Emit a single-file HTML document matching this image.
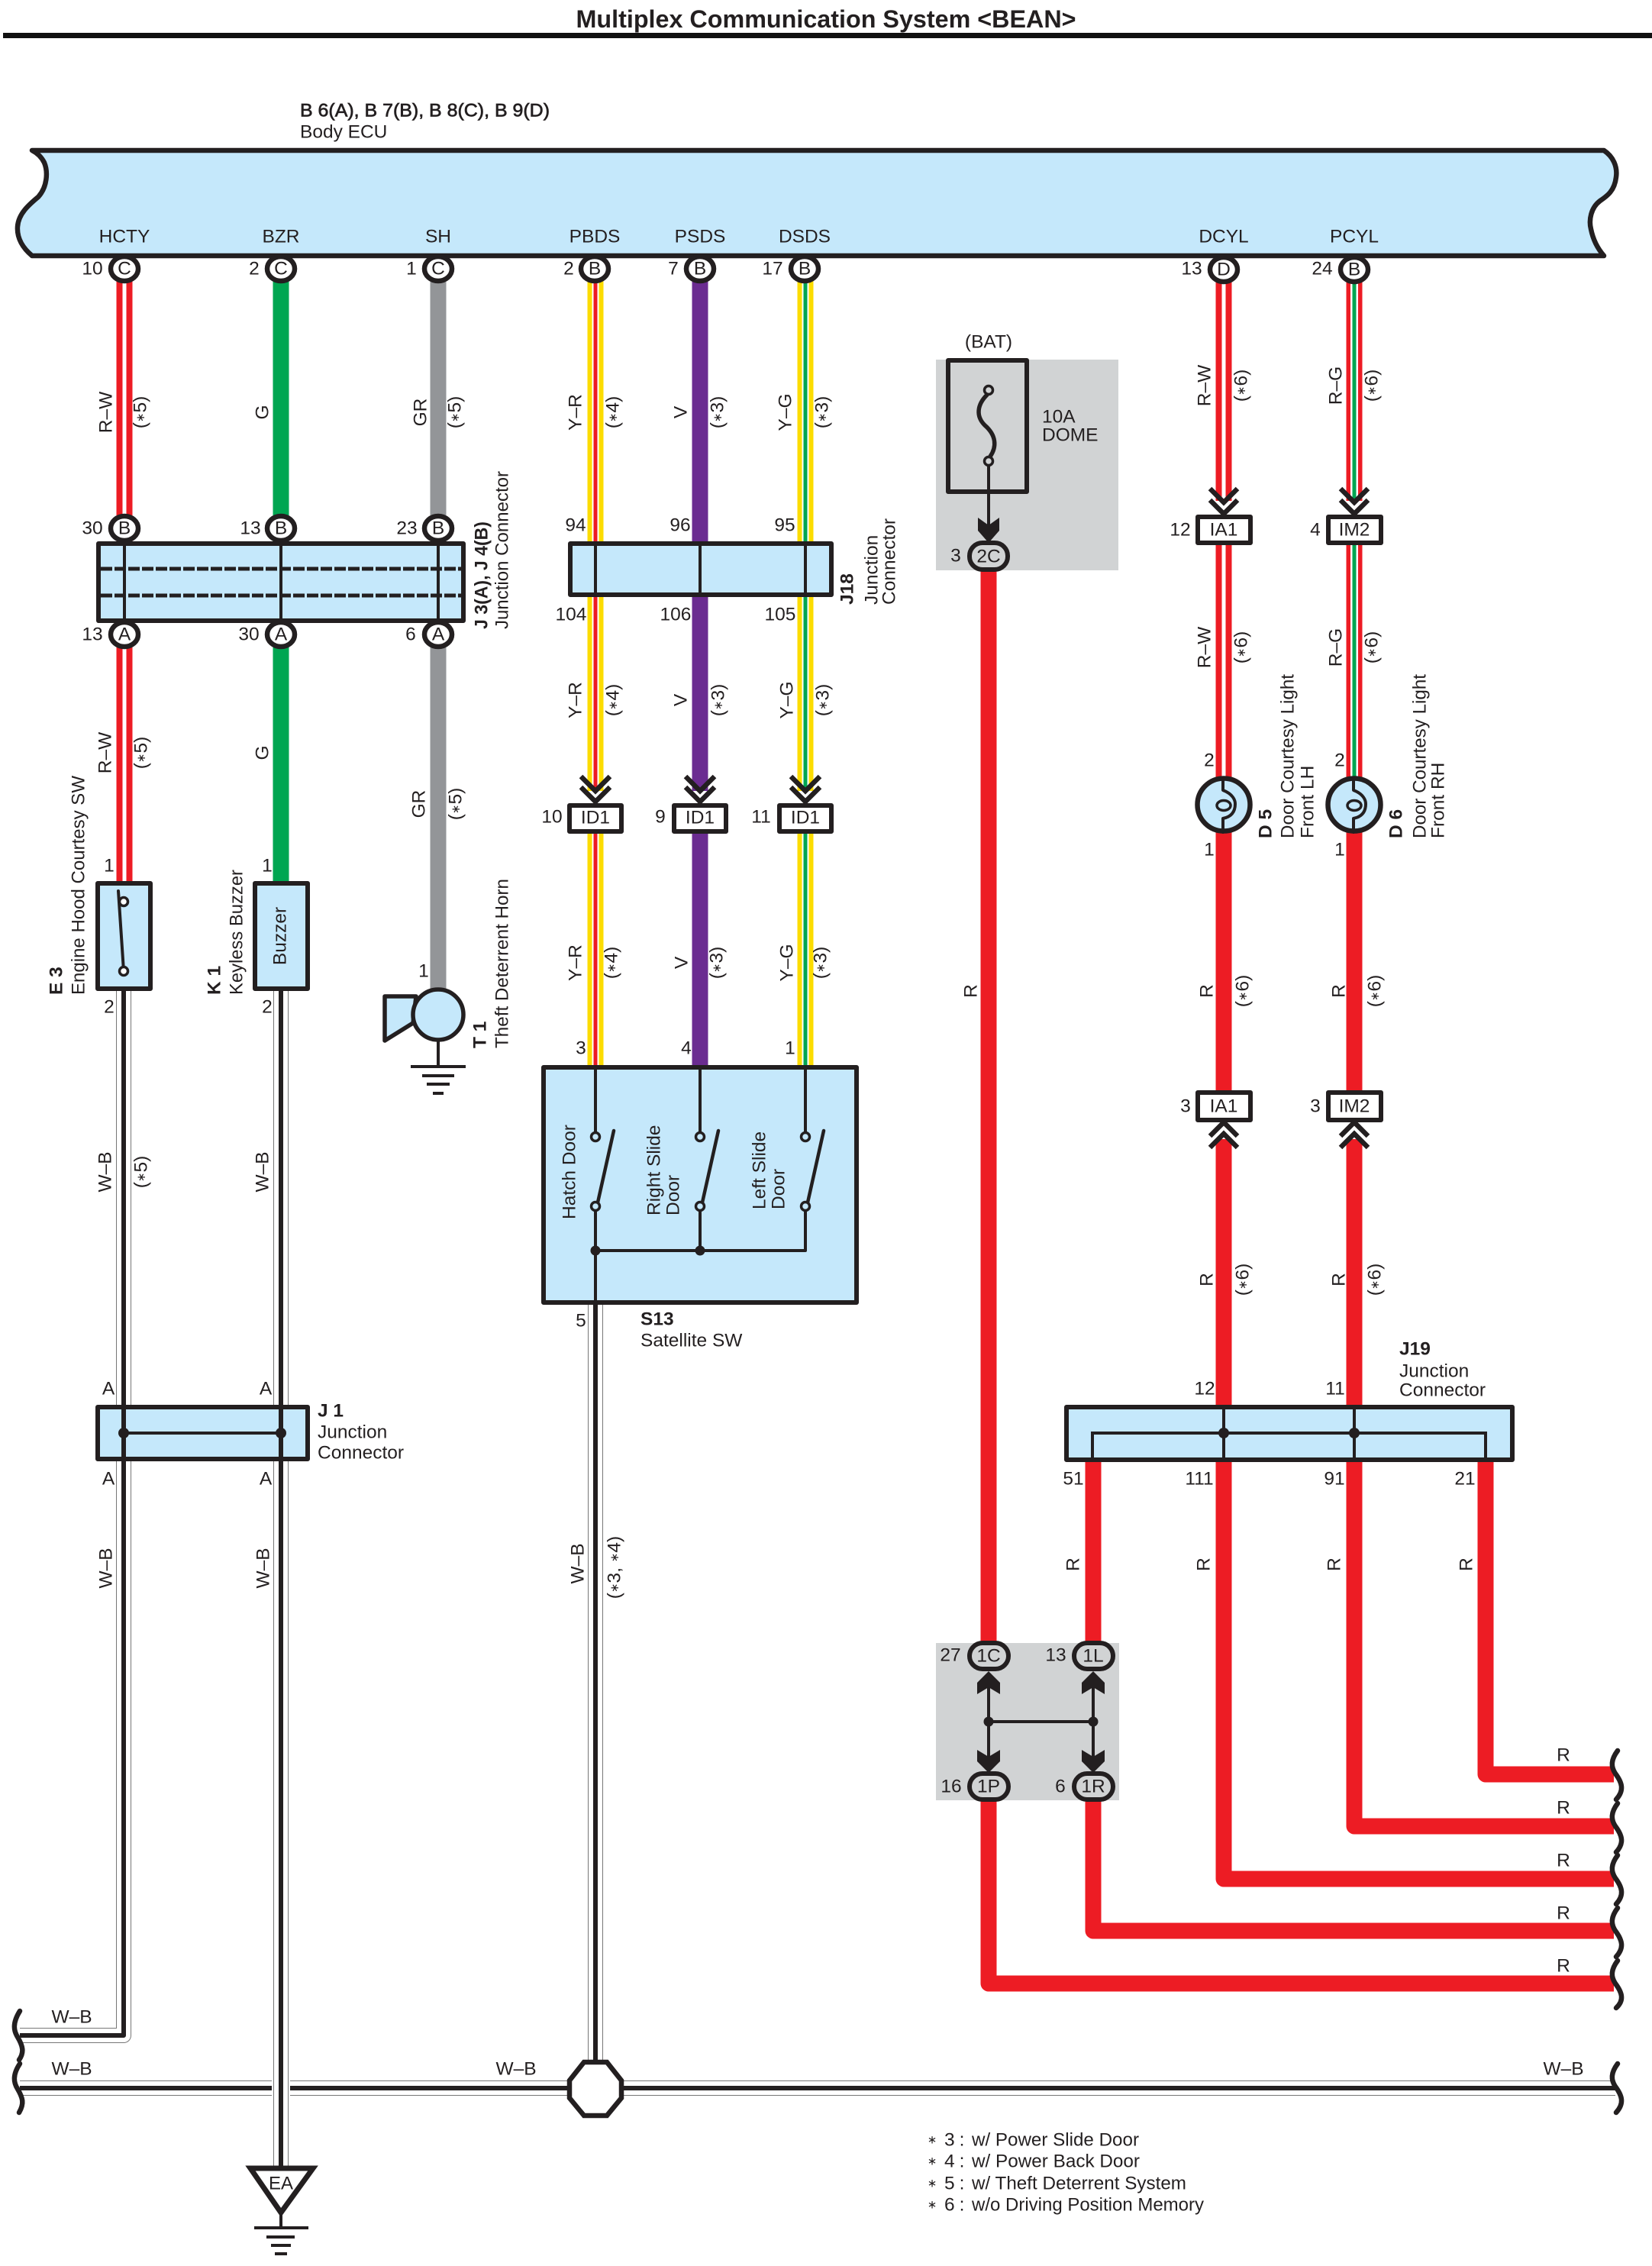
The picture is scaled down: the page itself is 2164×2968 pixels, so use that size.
<!DOCTYPE html>
<html><head><meta charset="utf-8"><style>
html,body{margin:0;padding:0;background:#fff}
svg{display:block}
text{font-family:"Liberation Sans",sans-serif;font-size:24.5px;fill:#231f20;text-anchor:middle;dominant-baseline:central}
.a{font-size:15px}
.s{text-anchor:start}
.b{font-weight:bold}
.m{stroke:#231f20;stroke-width:.7px}
.k{fill:none;stroke:#231f20;stroke-linecap:round;stroke-linejoin:round}
.bx{fill:#c5e8fb;stroke:#231f20;stroke-width:6;stroke-linejoin:round}
.ov{fill:#d1d3d4;stroke:#231f20;stroke-width:6}
.w{fill:none;stroke-linejoin:round}
</style></head><body>
<svg xmlns="http://www.w3.org/2000/svg" width="2164" height="2968" viewBox="0 0 2164 2968">
<rect width="2164" height="2968" fill="#fff"/>
<!-- title -->
<text class="b" x="1082" y="25" style="font-size:32px" textLength="655" lengthAdjust="spacingAndGlyphs">Multiplex Communication System &lt;BEAN&gt;</text>
<rect x="4" y="43" width="2160" height="7" fill="#111"/>
<text class="s m" x="393" y="145" textLength="327" lengthAdjust="spacingAndGlyphs">B 6(A), B 7(B), B 8(C), B 9(D)</text>
<text class="s" x="393" y="173">Body ECU</text>

<!-- gray backgrounds -->
<rect x="1226" y="471" width="239" height="276" fill="#d1d3d4"/>
<rect x="1226" y="2152" width="240" height="206" fill="#d1d3d4"/>

<!-- ECU -->
<path d="M42,197 H2101 C2113,205 2119,218 2117,232 C2115,250 2105,257 2096,263 C2084,272 2081,288 2084,300 C2087,315 2094,327 2101,335 H42 C30,325 22,312 23,297 C24,280 38,268 50,258 C62,245 63,225 58,213 C54,205 48,200 42,197 Z" fill="#c5e8fb" stroke="#231f20" stroke-width="6.5" stroke-linejoin="round"/>
<text x="163" y="310">HCTY</text><text x="368" y="310">BZR</text><text x="574" y="310">SH</text><text x="779" y="310">PBDS</text><text x="917" y="310">PSDS</text><text x="1054" y="310">DSDS</text><text x="1603" y="310">DCYL</text><text x="1774" y="310">PCYL</text>

<!-- coloured wires -->
<g class="w">
<path d="M163,352V1157" stroke="#ed1c24" stroke-width="21"/><path d="M163,352V1157" stroke="#fff" stroke-width="5"/>
<path d="M368,352V1157" stroke="#00a651" stroke-width="21"/>
<path d="M574,352V1300" stroke="#939598" stroke-width="21"/>
<path d="M780,352V1036M780,1090V1398" stroke="#fcdc00" stroke-width="21"/><path d="M780,352V1036M780,1090V1398" stroke="#fff" stroke-width="9"/><path d="M780,352V1036M780,1090V1398" stroke="#ed1c24" stroke-width="5"/>
<path d="M917,352V1036M917,1090V1398" stroke="#6b2c91" stroke-width="21"/>
<path d="M1055,352V1036M1055,1090V1398" stroke="#fcdc00" stroke-width="21"/><path d="M1055,352V1036M1055,1090V1398" stroke="#fff" stroke-width="9"/><path d="M1055,352V1036M1055,1090V1398" stroke="#00a651" stroke-width="5"/>
<path d="M1603,353V656M1603,694V1030" stroke="#ed1c24" stroke-width="21"/><path d="M1603,353V656M1603,694V1030" stroke="#fff" stroke-width="5"/>
<path d="M1774,353V656M1774,694V1030" stroke="#ed1c24" stroke-width="21"/><path d="M1774,353V656M1774,694V1030" stroke="#fff" stroke-width="10"/><path d="M1774,353V656M1774,694V1030" stroke="#00a651" stroke-width="5"/>
<!-- red -->
<g stroke="#ed1c24" stroke-width="21">
<path d="M1295,729V2169"/>
<path d="M1295,2340V2598H2114"/>
<path d="M1432,1912V2169"/>
<path d="M1432,2340V2529H2114"/>
<path d="M1603,1085V1430M1603,1492V2461H2114"/>
<path d="M1774,1085V1430M1774,1492V2392H2114"/>
<path d="M1946,1912V2324H2114"/>
</g>
<!-- W-B -->
<g>
<path d="M162,1295V2666H26" stroke="#777" stroke-width="20"/><path d="M162,1295V2666H26" stroke="#fff" stroke-width="18"/><path d="M162,1295V2666H26" stroke="#231f20" stroke-width="6"/>
<path d="M26,2735H2116" stroke="#777" stroke-width="20"/><path d="M26,2735H2116" stroke="#fff" stroke-width="18"/><path d="M26,2735H2116" stroke="#231f20" stroke-width="6"/>
<path d="M368,1295V2840" stroke="#fff" stroke-width="24"/>
<path d="M368,1295V2840" stroke="#777" stroke-width="20"/><path d="M368,1295V2840" stroke="#fff" stroke-width="18"/><path d="M368,1295V2840" stroke="#231f20" stroke-width="6"/>
<path d="M780,1706V2702" stroke="#777" stroke-width="20"/><path d="M780,1706V2702" stroke="#fff" stroke-width="18"/><path d="M780,1706V2702" stroke="#231f20" stroke-width="6"/>
</g>
</g>

<!-- squiggles -->
<g class="k" stroke-width="6.5">
<path d="M26,2634C16,2650 18,2660 23,2668C30,2680 32,2688 25,2698"/>
<path d="M26,2703C16,2718 18,2728 23,2736C30,2748 32,2755 25,2767"/>
<path d="M2119,2703C2110,2715 2110,2724 2116,2733C2125,2745 2128,2755 2117,2767"/>
<path d="M2119,2293C2110,2305 2110,2314 2116,2323C2125,2335 2128,2345 2117,2357"/>
<path d="M2119,2362C2110,2374 2110,2383 2116,2392C2125,2404 2128,2414 2117,2426"/>
<path d="M2119,2430C2110,2442 2110,2451 2116,2460C2125,2472 2128,2482 2117,2494"/>
<path d="M2119,2499C2110,2511 2110,2520 2116,2529C2125,2541 2128,2551 2117,2563"/>
<path d="M2119,2568C2110,2580 2110,2589 2116,2598C2125,2610 2128,2620 2117,2630"/>
</g>

<!-- ECU pins -->
<g style="fill:#fff;stroke:#231f20;stroke-width:6.5">
<ellipse cx="163" cy="352" rx="18" ry="16"/><ellipse cx="368" cy="352" rx="18" ry="16"/><ellipse cx="574" cy="352" rx="18" ry="16"/><ellipse cx="779" cy="352" rx="18" ry="16"/><ellipse cx="917" cy="352" rx="18" ry="16"/><ellipse cx="1054" cy="352" rx="18" ry="16"/><ellipse cx="1603" cy="353" rx="18" ry="16"/><ellipse cx="1774" cy="353" rx="18" ry="16"/>
<ellipse cx="163" cy="692" rx="18" ry="16"/><ellipse cx="368" cy="692" rx="18" ry="16"/><ellipse cx="574" cy="692" rx="18" ry="16"/>
<ellipse cx="163" cy="831" rx="18" ry="16"/><ellipse cx="368" cy="831" rx="18" ry="16"/><ellipse cx="574" cy="831" rx="18" ry="16"/>
</g>
<text x="163" y="352">C</text><text x="368" y="352">C</text><text x="574" y="352">C</text><text x="779" y="352">B</text><text x="917" y="352">B</text><text x="1054" y="352">B</text><text x="1603" y="353">D</text><text x="1774" y="353">B</text>
<text x="163" y="692">B</text><text x="368" y="692">B</text><text x="574" y="692">B</text>
<text x="163" y="831">A</text><text x="368" y="831">A</text><text x="574" y="831">A</text>
<text x="121" y="352">10</text><text x="333" y="352">2</text><text x="539" y="352">1</text><text x="745" y="352">2</text><text x="882" y="352">7</text><text x="1012" y="352">17</text><text x="1561" y="352">13</text><text x="1732" y="352">24</text>
<text x="121" y="692">30</text><text x="328" y="692">13</text><text x="533" y="692">23</text>
<text x="121" y="831">13</text><text x="326" y="831">30</text><text x="538" y="831">6</text>
<text x="754" y="688">94</text><text x="891" y="688">96</text><text x="1028" y="688">95</text>
<text x="748" y="805">104</text><text x="885" y="805">106</text><text x="1022" y="805">105</text>

<!-- J3/J4 -->
<rect class="bx" x="129" y="712" width="478" height="101"/>
<path d="M163,712V813M368,712V813M574,712V813" stroke="#231f20" stroke-width="4"/>
<path d="M132,745H604M132,780H604" stroke="#231f20" stroke-width="5" stroke-dasharray="15 3"/>
<!-- J18 -->
<rect class="bx" x="747" y="712" width="342" height="67"/>
<path d="M780,712V779M917,712V779M1055,712V779" stroke="#231f20" stroke-width="4"/>

<!-- ID1 -->
<g fill="#fff" stroke="#231f20" stroke-width="6" stroke-linejoin="round">
<rect x="746" y="1055" width="68" height="34"/><rect x="883" y="1055" width="68" height="34"/><rect x="1021" y="1055" width="68" height="34"/>
<rect x="1569" y="677" width="69" height="34"/><rect x="1740" y="677" width="69" height="34"/>
<rect x="1569" y="1431" width="69" height="36"/><rect x="1740" y="1431" width="69" height="36"/>
</g>
<text x="780" y="1071">ID1</text><text x="917" y="1071">ID1</text><text x="1055" y="1071">ID1</text>
<text x="1603" y="694">IA1</text><text x="1774" y="694">IM2</text><text x="1603" y="1449">IA1</text><text x="1774" y="1449">IM2</text>
<text x="723" y="1070">10</text><text x="865" y="1070">9</text><text x="997" y="1070">11</text>
<text x="1546" y="694">12</text><text x="1723" y="694">4</text><text x="1553" y="1449">3</text><text x="1723" y="1449">3</text>
<!-- chevrons -->
<g class="k" stroke-width="6.5" style="stroke-linecap:butt;stroke-linejoin:miter">
<path d="M761,1017L780,1036L799,1017M761,1031L780,1050L799,1031"/>
<path d="M898,1017L917,1036L936,1017M898,1031L917,1050L936,1031"/>
<path d="M1036,1017L1055,1036L1074,1017M1036,1031L1055,1050L1074,1031"/>
<path d="M1585,640L1603,658L1621,640M1585,655L1603,673L1621,655"/>
<path d="M1756,640L1774,658L1792,640M1756,655L1774,673L1792,655"/>
<path d="M1585,1488L1603,1470L1621,1488M1585,1503L1603,1485L1621,1503"/>
<path d="M1756,1488L1774,1470L1792,1488M1756,1503L1774,1485L1792,1503"/>
</g>

<!-- E3 -->
<rect class="bx" x="128" y="1157" width="69" height="138"/>
<path class="k" stroke-width="4" d="M155,1167L162,1272"/>
<circle cx="162" cy="1181" r="5.5" fill="#fff" stroke="#231f20" stroke-width="3.5"/>
<circle cx="162" cy="1272" r="5.5" fill="#fff" stroke="#231f20" stroke-width="3.5"/>
<!-- K1 -->
<rect class="bx" x="334" y="1157" width="69" height="138"/>
<text transform="translate(367,1226) rotate(-90)">Buzzer</text>
<!-- Horn -->
<path d="M574,1364V1397" stroke="#231f20" stroke-width="4"/>
<path d="M504,1305H545L541,1340L504,1363Z" fill="#c5e8fb" stroke="#231f20" stroke-width="5.5" stroke-linejoin="round"/>
<circle cx="574" cy="1329" r="33" fill="#c5e8fb" stroke="#231f20" stroke-width="5.5"/>
<path d="M538,1397H610M553,1409H595M559,1420H589M567,1432H581" stroke="#231f20" stroke-width="4"/>

<!-- S13 -->
<rect class="bx" x="712" y="1398" width="410" height="308"/>
<path class="k" stroke-width="4" d="M780,1398V1484M917,1398V1484M1055,1398V1484M780,1585V1706M917,1585V1638M1055,1585V1638H780"/>
<path class="k" stroke-width="4.5" d="M783,1575L804,1481M920,1575L941,1481M1058,1575L1079,1481"/>
<g fill="#c5e8fb" stroke="#231f20" stroke-width="3.5">
<circle cx="780" cy="1489" r="5.5"/><circle cx="917" cy="1489" r="5.5"/><circle cx="1055" cy="1489" r="5.5"/>
<circle cx="780" cy="1580" r="5.5"/><circle cx="917" cy="1580" r="5.5"/><circle cx="1055" cy="1580" r="5.5"/>
</g>
<circle cx="780" cy="1638" r="6.5" fill="#231f20"/><circle cx="917" cy="1638" r="6.5" fill="#231f20"/>

<!-- J1 -->
<rect class="bx" x="128" y="1843" width="275" height="68"/>
<path d="M162,1843V1911M368,1843V1911" stroke="#231f20" stroke-width="6"/>
<path d="M162,1877H368" stroke="#231f20" stroke-width="4"/>
<circle cx="162" cy="1877" r="7" fill="#231f20"/><circle cx="368" cy="1877" r="7" fill="#231f20"/>

<!-- J19 -->
<rect class="bx" x="1397" y="1843" width="584" height="69"/>
<path class="k" stroke-width="4" d="M1431,1912V1877H1946V1912M1603,1843V1912M1774,1843V1912" style="stroke-linecap:butt;stroke-linejoin:miter"/>
<circle cx="1603" cy="1877" r="7" fill="#231f20"/><circle cx="1774" cy="1877" r="7" fill="#231f20"/>

<!-- Fuse -->
<rect x="1242" y="472" width="103" height="172" fill="none" stroke="#231f20" stroke-width="6" stroke-linejoin="round"/>
<path class="k" stroke-width="5.5" d="M1293,517C1280,530 1278,545 1290,557C1305,570 1306,585 1297,598"/>
<circle cx="1295" cy="511" r="5.5" fill="none" stroke="#231f20" stroke-width="3.5"/>
<circle cx="1295" cy="604" r="5.5" fill="#d1d3d4" stroke="#231f20" stroke-width="3.5"/>
<path d="M1295,610V690" stroke="#231f20" stroke-width="4"/>
<path d="M1281,678L1295,688L1309,678V695L1295,711L1281,695Z" fill="#231f20"/>

<!-- H block -->
<path d="M1295,2200V2310M1432,2200V2310M1295,2255H1432" stroke="#231f20" stroke-width="4"/>
<circle cx="1295" cy="2255" r="6.5" fill="#231f20"/><circle cx="1432" cy="2255" r="6.5" fill="#231f20"/>
<path d="M1280,2219L1295,2210L1310,2219V2204L1295,2189L1280,2204Z" fill="#231f20"/>
<path d="M1417,2219L1432,2210L1447,2219V2204L1432,2189L1417,2204Z" fill="#231f20"/>
<path d="M1280,2292L1295,2301L1310,2292V2307L1295,2322L1280,2307Z" fill="#231f20"/>
<path d="M1417,2292L1432,2301L1447,2292V2307L1432,2322L1417,2307Z" fill="#231f20"/>
<rect class="ov" x="1270" y="711" width="50" height="35" rx="17"/>
<rect class="ov" x="1270" y="2152" width="51" height="34" rx="17"/>
<rect class="ov" x="1407" y="2152" width="51" height="34" rx="17"/>
<rect class="ov" x="1270" y="2323" width="51" height="34" rx="17"/>
<rect class="ov" x="1407" y="2323" width="51" height="34" rx="17"/>
<text x="1295" y="729">2C</text><text x="1295" y="2169">1C</text><text x="1432" y="2169">1L</text><text x="1295" y="2340">1P</text><text x="1432" y="2340">1R</text>
<text x="1252" y="728">3</text><text x="1245" y="2168">27</text><text x="1383" y="2168">13</text><text x="1246" y="2340">16</text><text x="1389" y="2340">6</text>
<text x="1295" y="448">(BAT)</text><text class="s" x="1365" y="546">10A</text><text class="s" x="1365" y="570">DOME</text>

<!-- Bulbs -->
<g fill="#c5e8fb" stroke="#231f20" stroke-width="6.5"><circle cx="1603" cy="1054" r="34.5"/><circle cx="1774" cy="1054" r="34.5"/></g>
<path class="k" stroke-width="4" d="M1602,1020V1035C1615,1040 1618,1048 1618,1053C1618,1064 1612,1070 1602,1072V1090"/>
<ellipse cx="1603" cy="1055" rx="9" ry="6.5" fill="none" stroke="#231f20" stroke-width="3.5"/>
<path class="k" stroke-width="4" d="M1773,1020V1035C1786,1040 1789,1048 1789,1053C1789,1064 1783,1070 1773,1072V1090"/>
<ellipse cx="1774" cy="1055" rx="9" ry="6.5" fill="none" stroke="#231f20" stroke-width="3.5"/>

<!-- Octagon -->
<path d="M765,2701H795L814,2725V2748L795,2771H765L746,2748V2725Z" fill="#fff" stroke="#231f20" stroke-width="6.5" stroke-linejoin="miter"/>
<!-- EA ground -->
<path d="M328,2840H410L368,2898Z" fill="#fff" stroke="#231f20" stroke-width="7" stroke-linejoin="miter"/>
<text x="368" y="2860" style="font-size:24px">EA</text>
<path d="M368,2895V2918" stroke="#231f20" stroke-width="4"/>
<path d="M333,2918H404M349,2930H386M355,2941H381M360,2952H376" stroke="#231f20" stroke-width="4"/>

<!-- Rotated labels row 1 -->
<text transform="translate(139,540) rotate(-90)">R–W</text><text transform="translate(184,540) rotate(-90)">(<tspan class="a">∗</tspan>5)</text>
<text transform="translate(344,540) rotate(-90)">G</text>
<text transform="translate(551,540) rotate(-90)">GR</text><text transform="translate(596,540) rotate(-90)">(<tspan class="a">∗</tspan>5)</text>
<text transform="translate(754,540) rotate(-90)">Y–R</text><text transform="translate(803,540) rotate(-90)">(<tspan class="a">∗</tspan>4)</text>
<text transform="translate(892,540) rotate(-90)">V</text><text transform="translate(940,540) rotate(-90)">(<tspan class="a">∗</tspan>3)</text>
<text transform="translate(1029,540) rotate(-90)">Y–G</text><text transform="translate(1077,540) rotate(-90)">(<tspan class="a">∗</tspan>3)</text>
<!-- row 2 -->
<text transform="translate(754,917) rotate(-90)">Y–R</text><text transform="translate(803,917) rotate(-90)">(<tspan class="a">∗</tspan>4)</text>
<text transform="translate(892,917) rotate(-90)">V</text><text transform="translate(941,917) rotate(-90)">(<tspan class="a">∗</tspan>3)</text>
<text transform="translate(1031,917) rotate(-90)">Y–G</text><text transform="translate(1078,917) rotate(-90)">(<tspan class="a">∗</tspan>3)</text>
<text transform="translate(138,986) rotate(-90)">R–W</text><text transform="translate(185,986) rotate(-90)">(<tspan class="a">∗</tspan>5)</text>
<text transform="translate(344,986) rotate(-90)">G</text>
<text transform="translate(549,1053) rotate(-90)">GR</text><text transform="translate(597,1053) rotate(-90)">(<tspan class="a">∗</tspan>5)</text>
<!-- row 3 -->
<text transform="translate(754,1261) rotate(-90)">Y–R</text><text transform="translate(801,1261) rotate(-90)">(<tspan class="a">∗</tspan>4)</text>
<text transform="translate(893,1261) rotate(-90)">V</text><text transform="translate(939,1261) rotate(-90)">(<tspan class="a">∗</tspan>3)</text>
<text transform="translate(1031,1261) rotate(-90)">Y–G</text><text transform="translate(1075,1261) rotate(-90)">(<tspan class="a">∗</tspan>3)</text>
<!-- W-B -->
<text transform="translate(138,1535) rotate(-90)">W–B</text><text transform="translate(185,1535) rotate(-90)">(<tspan class="a">∗</tspan>5)</text>
<text transform="translate(344,1535) rotate(-90)">W–B</text>
<text transform="translate(139,2054) rotate(-90)">W–B</text><text transform="translate(345,2054) rotate(-90)">W–B</text>
<text transform="translate(757,2048) rotate(-90)">W–B</text><text transform="translate(805,2053) rotate(-90)">(<tspan class="a">∗</tspan>3, <tspan class="a">∗</tspan>4)</text>
<!-- right wires -->
<text transform="translate(1578,505) rotate(-90)">R–W</text><text transform="translate(1626,505) rotate(-90)">(<tspan class="a">∗</tspan>6)</text>
<text transform="translate(1750,505) rotate(-90)">R–G</text><text transform="translate(1797,505) rotate(-90)">(<tspan class="a">∗</tspan>6)</text>
<text transform="translate(1578,848) rotate(-90)">R–W</text><text transform="translate(1626,848) rotate(-90)">(<tspan class="a">∗</tspan>6)</text>
<text transform="translate(1750,848) rotate(-90)">R–G</text><text transform="translate(1797,848) rotate(-90)">(<tspan class="a">∗</tspan>6)</text>
<text transform="translate(1272,1298) rotate(-90)">R</text>
<text transform="translate(1581,1298) rotate(-90)">R</text><text transform="translate(1628,1298) rotate(-90)">(<tspan class="a">∗</tspan>6)</text>
<text transform="translate(1754,1298) rotate(-90)">R</text><text transform="translate(1801,1298) rotate(-90)">(<tspan class="a">∗</tspan>6)</text>
<text transform="translate(1581,1676) rotate(-90)">R</text><text transform="translate(1628,1676) rotate(-90)">(<tspan class="a">∗</tspan>6)</text>
<text transform="translate(1754,1676) rotate(-90)">R</text><text transform="translate(1801,1676) rotate(-90)">(<tspan class="a">∗</tspan>6)</text>
<text transform="translate(1406,2049) rotate(-90)">R</text><text transform="translate(1577,2049) rotate(-90)">R</text><text transform="translate(1748,2049) rotate(-90)">R</text><text transform="translate(1921,2049) rotate(-90)">R</text>

<!-- rotated names -->
<text class="s b" transform="translate(631,824) rotate(-90)" textLength="141" lengthAdjust="spacingAndGlyphs">J 3(A), J 4(B)</text>
<text class="s" transform="translate(658,824) rotate(-90)" textLength="207" lengthAdjust="spacingAndGlyphs">Junction Connector</text>
<text class="s b" transform="translate(1110,792) rotate(-90)">J18</text>
<text class="s" transform="translate(1142,792) rotate(-90)">Junction</text>
<text class="s" transform="translate(1165,792) rotate(-90)">Connector</text>
<text class="s b" transform="translate(74,1303) rotate(-90)">E 3</text>
<text class="s" transform="translate(103,1303) rotate(-90)" textLength="287" lengthAdjust="spacingAndGlyphs">Engine Hood Courtesy SW</text>
<text class="s b" transform="translate(281,1303) rotate(-90)">K 1</text>
<text class="s" transform="translate(310,1303) rotate(-90)" textLength="164" lengthAdjust="spacingAndGlyphs">Keyless Buzzer</text>
<text class="s b" transform="translate(629,1373) rotate(-90)">T 1</text>
<text class="s" transform="translate(658,1373) rotate(-90)" textLength="222" lengthAdjust="spacingAndGlyphs">Theft Deterrent Horn</text>
<text class="s b" transform="translate(1658,1098) rotate(-90)">D 5</text>
<text class="s" transform="translate(1687,1098) rotate(-90)" textLength="215" lengthAdjust="spacingAndGlyphs">Door Courtesy Light</text>
<text class="s" transform="translate(1713,1098) rotate(-90)">Front LH</text>
<text class="s b" transform="translate(1829,1098) rotate(-90)">D 6</text>
<text class="s" transform="translate(1860,1098) rotate(-90)" textLength="215" lengthAdjust="spacingAndGlyphs">Door Courtesy Light</text>
<text class="s" transform="translate(1884,1098) rotate(-90)">Front RH</text>
<text transform="translate(746,1535) rotate(-90)">Hatch Door</text>
<text class="s" transform="translate(857,1592) rotate(-90)">Right Slide</text>
<text class="s" transform="translate(882,1592) rotate(-90)">Door</text>
<text class="s" transform="translate(995,1584) rotate(-90)">Left Slide</text>
<text class="s" transform="translate(1020,1584) rotate(-90)">Door</text>

<!-- pin labels -->
<text x="143" y="1134">1</text><text x="143" y="1319">2</text><text x="350" y="1134">1</text><text x="350" y="1319">2</text><text x="555" y="1272">1</text>
<text x="761" y="1373">3</text><text x="899" y="1373">4</text><text x="1035" y="1373">1</text><text x="761" y="1730">5</text>
<text class="s b" x="839" y="1728">S13</text><text class="s" x="839" y="1756">Satellite SW</text>
<text x="142" y="1819">A</text><text x="348" y="1819">A</text><text x="142" y="1937">A</text><text x="348" y="1937">A</text>
<text class="s b" x="416" y="1848">J 1</text><text class="s" x="416" y="1876">Junction</text><text class="s" x="416" y="1903">Connector</text>
<text x="1584" y="996">2</text><text x="1755" y="996">2</text><text x="1584" y="1113">1</text><text x="1755" y="1113">1</text>
<text x="1578" y="1819">12</text><text x="1749" y="1819">11</text>
<text class="s b" x="1833" y="1767">J19</text><text class="s" x="1833" y="1796">Junction</text><text class="s" x="1833" y="1821">Connector</text>
<text x="1406" y="1937">51</text><text x="1571" y="1937">111</text><text x="1748" y="1937">91</text><text x="1919" y="1937">21</text>
<text x="2048" y="2299">R</text><text x="2048" y="2368">R</text><text x="2048" y="2437">R</text><text x="2048" y="2506">R</text><text x="2048" y="2575">R</text>
<text x="94" y="2642">W–B</text><text x="94" y="2710">W–B</text><text x="676" y="2710">W–B</text><text x="2048" y="2710">W–B</text>

<!-- notes -->
<g>
<text x="1221" y="2803" style="font-size:15px">∗</text><text class="s" x="1237" y="2803">3</text><text x="1260" y="2803">:</text><text class="s" x="1273" y="2803" textLength="219" lengthAdjust="spacingAndGlyphs">w/ Power Slide Door</text>
<text x="1221" y="2831" style="font-size:15px">∗</text><text class="s" x="1237" y="2831">4</text><text x="1260" y="2831">:</text><text class="s" x="1273" y="2831" textLength="220" lengthAdjust="spacingAndGlyphs">w/ Power Back Door</text>
<text x="1221" y="2860" style="font-size:15px">∗</text><text class="s" x="1237" y="2860">5</text><text x="1260" y="2860">:</text><text class="s" x="1273" y="2860" textLength="281" lengthAdjust="spacingAndGlyphs">w/ Theft Deterrent System</text>
<text x="1221" y="2888" style="font-size:15px">∗</text><text class="s" x="1237" y="2888">6</text><text x="1260" y="2888">:</text><text class="s" x="1273" y="2888" textLength="304" lengthAdjust="spacingAndGlyphs">w/o Driving Position Memory</text>
</g>
</svg>
</body></html>
